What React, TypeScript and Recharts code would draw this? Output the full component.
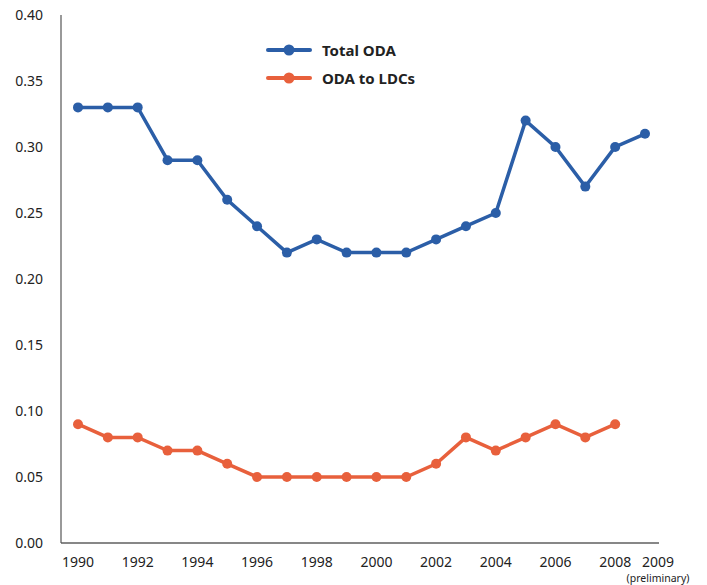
import { LineChart, Line, XAxis, YAxis } from 'recharts'

const YEARS = [1990, 1991, 1992, 1993, 1994, 1995, 1996, 1997, 1998, 1999, 2000, 2001, 2002, 2003, 2004, 2005, 2006, 2007, 2008, 2009]
const TOTAL_ODA = [0.33, 0.33, 0.33, 0.29, 0.29, 0.26, 0.24, 0.22, 0.23, 0.22, 0.22, 0.22, 0.23, 0.24, 0.25, 0.32, 0.30, 0.27, 0.30, 0.31]
const ODA_LDC = [0.09, 0.08, 0.08, 0.07, 0.07, 0.06, 0.05, 0.05, 0.05, 0.05, 0.05, 0.05, 0.06, 0.08, 0.07, 0.08, 0.09, 0.08, 0.09, null]
const X_TICKS = [1990, 1992, 1994, 1996, 1998, 2000, 2002, 2004, 2006, 2008, 2009]
const Y_TICKS = [0, 0.05, 0.1, 0.15, 0.2, 0.25, 0.3, 0.35, 0.4]
const SERIES = [
  { key: 'total', name: 'Total ODA', color: '#2b5ea7' },
  { key: 'ldc', name: 'ODA to LDCs', color: '#e8603c' },
]

const FONT = '"Noto Sans", sans-serif'

const data = YEARS.map((year, i) => ({ year, total: TOTAL_ODA[i], ldc: ODA_LDC[i] }))

function XTick({ x, y, payload }: any) {
  const last = payload.value === 2009
  return (
    <g transform={`translate(${x + (last ? 13 : 0)},${y})`}>
      <text textAnchor="middle" dy={16} fontSize={14} fill="#222" fontFamily={FONT}>{payload.value}</text>
      {last && <text textAnchor="middle" dy={31} fontSize={10.5} fill="#222" fontFamily={FONT}>(preliminary)</text>}
    </g>
  )
}

// legend drawn as an overlay so it doesn't shift the plot area
function LegendBox() {
  return (
    <div style={{ position: 'absolute', left: 266, top: 36, fontFamily: FONT }}>
      {SERIES.map(it => (
        <div key={it.name} style={{ display: 'flex', alignItems: 'center', height: 28 }}>
          <svg width={46} height={12}>
            <line x1={2} y1={6} x2={44} y2={6} stroke={it.color} strokeWidth={4} strokeLinecap="round" />
            <circle cx={23} cy={6} r={5.5} fill={it.color} />
          </svg>
          <span style={{ marginLeft: 10, fontSize: 15, fontWeight: 700, color: '#222' }}>{it.name}</span>
        </div>
      ))}
    </div>
  )
}

export default function App() {
  return (
    <div style={{ position: 'absolute', left: 0, top: 0, width: 707, height: 585, background: '#fff' }}>
      <LineChart width={707} height={585} data={data} margin={{ top: 15, right: 48, bottom: 0, left: 0 }}>
        <XAxis
          dataKey="year"
          type="number"
          domain={[1990, 2009]}
          ticks={X_TICKS}
          interval={0}
          padding={{ left: 17, right: 14 }}
          height={42}
          tickLine={false}
          axisLine={{ stroke: '#111', strokeWidth: 1.2 }}
          tick={<XTick />}
        />
        <YAxis
          domain={[0, 0.4]}
          ticks={Y_TICKS}
          width={61}
          tickLine={false}
          axisLine={{ stroke: '#555', strokeWidth: 1.2 }}
          tickMargin={12}
          tickFormatter={(v: number) => v.toFixed(2)}
          tick={{ fontSize: 14, fill: '#222', fontFamily: FONT }}
        />
        {SERIES.map(s => (
          <Line
            key={s.key}
            dataKey={s.key}
            name={s.name}
            stroke={s.color}
            strokeWidth={3.5}
            dot={{ r: 5, fill: s.color, stroke: s.color, strokeWidth: 0 }}
            activeDot={false}
            isAnimationActive={false}
          />
        ))}
      </LineChart>
      <LegendBox />
    </div>
  )
}
